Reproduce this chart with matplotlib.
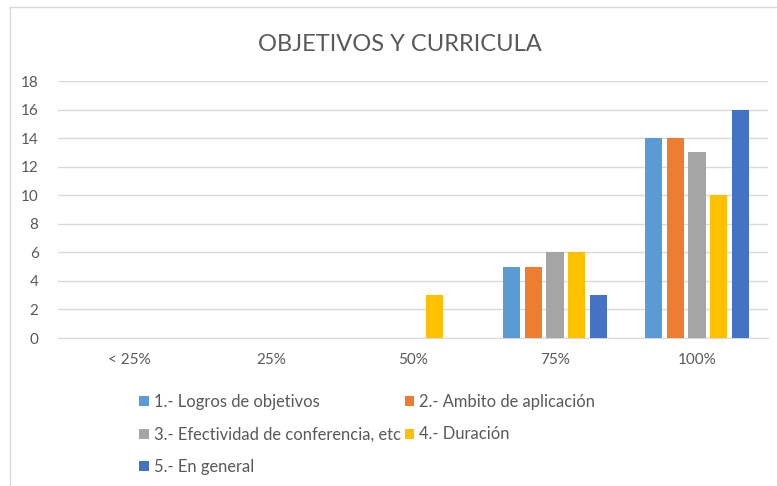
import numpy as np
import matplotlib.pyplot as plt
from matplotlib.lines import Line2D

categories = ['< 25%', '25%', '50%', '75%', '100%']
series_names = ['1.- Logros de objetivos', '2.- Ambito de aplicación',
                '3.- Efectividad de conferencia, etc', '4.- Duración', '5.- En general']
logros = [0, 0, 0, 5, 14]
ambito = [0, 0, 0, 5, 14]
efectividad = [0, 0, 0, 6, 13]
duracion = [0, 0, 3, 6, 10]
general = [0, 0, 0, 3, 16]
colors = ['#5B9BD5', '#ED7D31', '#A5A5A5', '#FFC000', '#4472C4']

plt.rcParams['font.family'] = ['Lato', 'DejaVu Sans']
text_color = '#595959'

fig = plt.figure(figsize=(7.77, 4.86), dpi=100)
ax = fig.add_axes([0.0746, 0.3045, 0.9138, 0.5288])

x = np.arange(len(categories))
width = 0.12
step = 0.153
all_series = [logros, ambito, efectividad, duracion, general]
bars = []
for i, vals in enumerate(all_series):
    b = ax.bar(x + (i - 2) * step, vals, width, color=colors[i], label=series_names[i], zorder=3)
    bars.append(b)

ax.set_xlim(-0.5, len(categories) - 0.5)
ax.set_ylim(0, 18)
ax.set_yticks(range(0, 19, 2))
ax.set_xticks(x)
ax.set_xticklabels(categories)
ax.tick_params(axis='both', length=0, colors=text_color, labelsize=11)
ax.tick_params(axis='x', pad=11)
ax.tick_params(axis='y', pad=14)
ax.grid(axis='y', color='#D9D9D9', linewidth=1, zorder=0)
for s in ['top', 'right', 'left']:
    ax.spines[s].set_visible(False)
ax.spines['bottom'].set_color('#D9D9D9')

fig.text(0.515, 0.909, 'OBJETIVOS Y CURRICULA', ha='center', va='center',
         fontsize=17, color=text_color)

# legend: two columns, filled row by row
order = [0, 2, 4, 1, 3]
handles = [bars[i] for i in order]
labels = [series_names[i] for i in order]
fig.legend(handles, labels, ncol=2, loc='upper left', bbox_to_anchor=(0.171, 0.203),
           frameon=False, fontsize=11.9, labelcolor=text_color,
           handlelength=0.55, handleheight=0.55, handletextpad=0.3,
           columnspacing=0.25, labelspacing=1.0, borderaxespad=0)

# chart border (only top and left visible in the crop)
fig.add_artist(Line2D([0.0129, 0.0129], [0, 0.9856], color='#D9D9D9', linewidth=1))
fig.add_artist(Line2D([0.0129, 1.0], [0.9856, 0.9856], color='#D9D9D9', linewidth=1))

fig.savefig('out.png', dpi=100)
